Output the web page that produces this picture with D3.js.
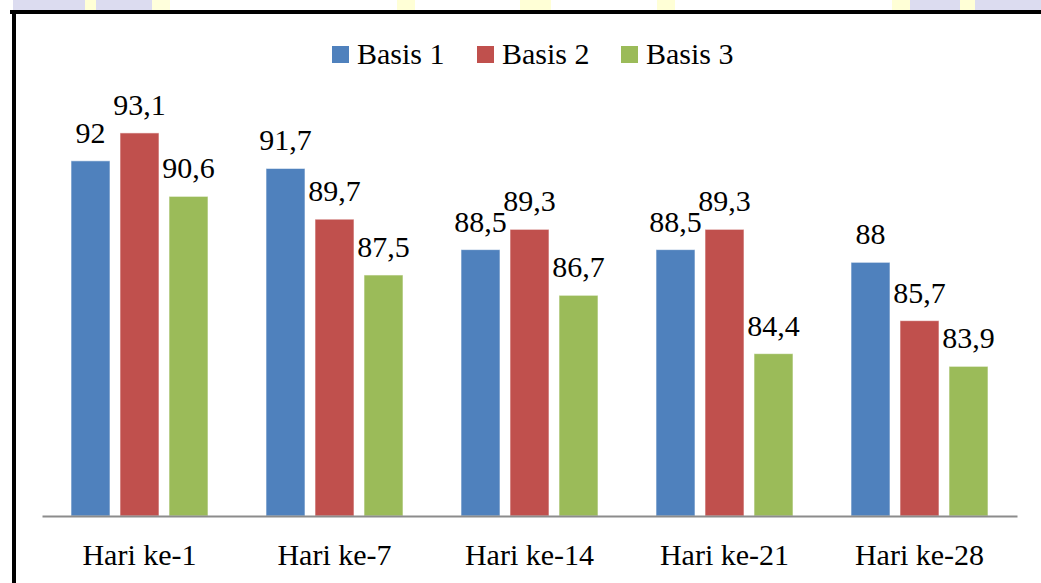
<!DOCTYPE html>
<html>
<head>
<meta charset="utf-8">
<script src="https://cdn.jsdelivr.net/npm/d3@7"></script>
<style>
  html, body { margin: 0; padding: 0; background: #fff; }
  svg { display: block; }
</style>
</head>
<body>
<svg id="chart" width="1041" height="583"></svg>
<script>
const categories = ["Hari ke-1", "Hari ke-7", "Hari ke-14", "Hari ke-21", "Hari ke-28"];
const seriesNames = ["Basis 1", "Basis 2", "Basis 3"];
const basis1 = [92, 91.7, 88.5, 88.5, 88];
const basis2 = [93.1, 89.7, 89.3, 89.3, 85.7];
const basis3 = [90.6, 87.5, 86.7, 84.4, 83.9];
const colors = ["#4f81bd", "#c0504d", "#9bbb59"];
const yDomain = [78, 94];

const seriesValues = [basis1, basis2, basis3];
const fmt = v => String(v).replace(".", ",");
const FONT = '"Liberation Serif"';

const svg = d3.select("#chart");
const W = 1041, H = 583;

// faint watermark fragments at very top
const wm = [
  [13, 85, "#dcdcf0"], [85, 96, "#ffffd6"], [96, 152, "#dcdcf0"], [152, 170, "#ffffdc"],
  [397, 415, "#ffffd6"], [520, 551, "#ffffd6"], [657, 675, "#ffffd6"],
  [892, 910, "#ffffd6"], [910, 960, "#dcdcf0"], [960, 975, "#ffffd6"], [975, 1041, "#dcdcf0"]
];
svg.selectAll("rect.wm").data(wm).join("rect").attr("class", "wm")
  .attr("x", d => d[0]).attr("y", 0).attr("width", d => d[1] - d[0]).attr("height", 10)
  .attr("fill", d => d[2]);

// frame
svg.append("line").attr("x1", 10).attr("x2", W).attr("y1", 12).attr("y2", 12)
  .attr("stroke", "#000").attr("stroke-width", 4);
svg.append("line").attr("x1", 14).attr("x2", 14).attr("y1", 10).attr("y2", H)
  .attr("stroke", "#000").attr("stroke-width", 4);

const plotLeft = 42, plotRight = 1017, baseY = 516;
const x0 = d3.scaleBand().domain(categories).range([plotLeft, plotRight]).padding(0);
const bw = x0.bandwidth();
const x1 = d3.scaleBand().domain(seriesNames)
  .range([bw / 2 - 68.5, bw / 2 + 68.5]).paddingInner(10 / 49).paddingOuter(0);
const y = d3.scaleLinear().domain(yDomain).range([baseY, baseY - 16 * 25.37]);

const data = [];
categories.forEach((c, i) => {
  seriesNames.forEach((s, j) => data.push({ c, s, j, v: seriesValues[j][i] }));
});

const g = svg.append("g");
g.selectAll("rect.bar").data(data).join("rect").attr("class", "bar")
  .attr("x", d => x0(d.c) + x1(d.s))
  .attr("y", d => y(d.v))
  .attr("width", x1.bandwidth())
  .attr("height", d => baseY - y(d.v))
  .attr("fill", d => colors[d.j])
  .attr("stroke", "rgba(255,255,255,0.6)").attr("stroke-width", 1);

g.selectAll("text.lbl").data(data).join("text").attr("class", "lbl")
  .attr("x", d => x0(d.c) + x1(d.s) + x1.bandwidth() / 2)
  .attr("y", d => y(d.v) - 18)
  .attr("text-anchor", "middle")
  .attr("font-size", 30)
  .style("font-family", FONT)
  .attr("fill", "#000")
  .text(d => fmt(d.v));

// x axis
const xAxis = d3.axisBottom(x0).tickSize(0).tickPadding(0);
const ax = svg.append("g").attr("transform", `translate(0,${baseY})`).call(xAxis)
  .attr("font-family", null).attr("font-size", null);
ax.select(".domain").attr("stroke", "#8c8c8c").attr("stroke-width", 2);
ax.selectAll(".tick text").attr("dy", 0).attr("y", 49)
  .attr("font-size", 30).style("font-family", FONT).attr("fill", "#000");

// legend
const legendX = [332, 477, 621];
const lg = svg.append("g");
seriesNames.forEach((s, j) => {
  lg.append("rect").attr("x", legendX[j]).attr("y", 46).attr("width", 17).attr("height", 17)
    .attr("fill", colors[j]);
  lg.append("text").attr("x", legendX[j] + 25).attr("y", 64)
    .attr("font-size", 30).style("font-family", FONT).attr("fill", "#000").text(s);
});
</script>
</body>
</html>
